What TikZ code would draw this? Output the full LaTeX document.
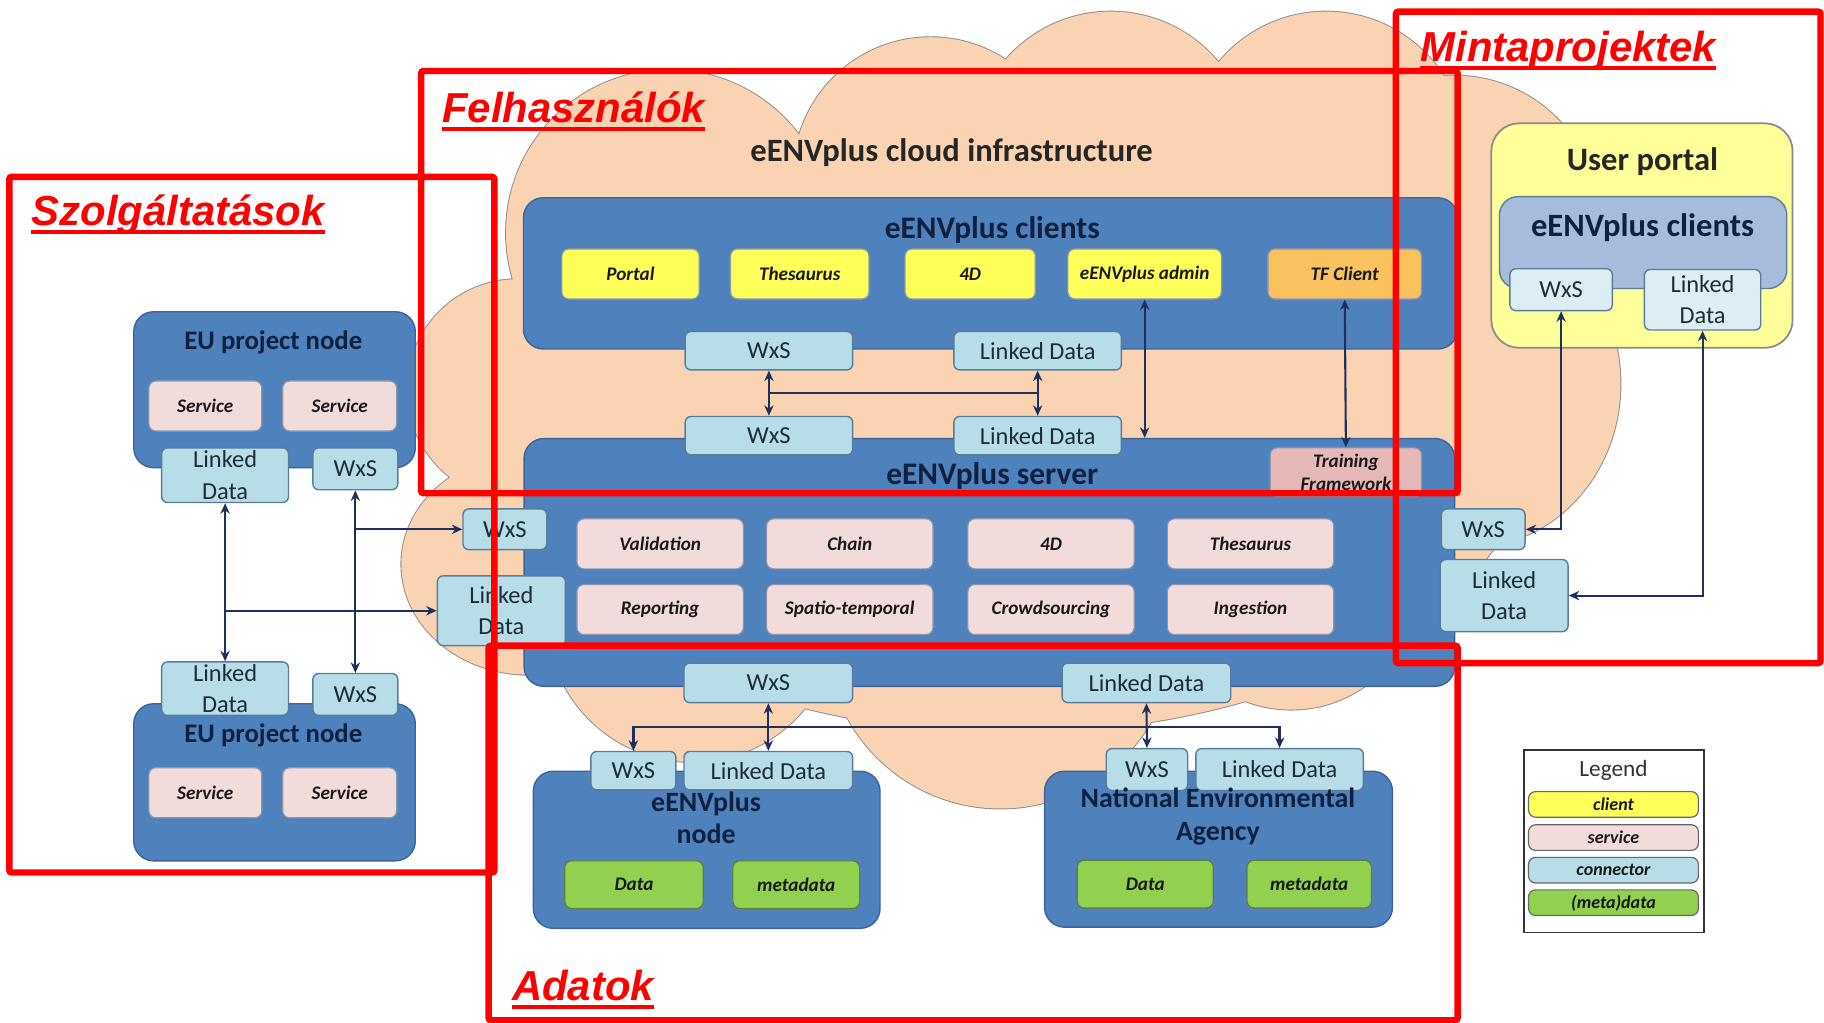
\documentclass[tikz,border=0pt]{standalone}
\usepackage{fontspec}
\setmainfont{Carlito}
\newfontfamily\redfont{Liberation Sans}
\usetikzlibrary{arrows.meta,calc}

\definecolor{cloudpeach}{HTML}{FAD3B3}
\definecolor{cloudedge}{HTML}{8A8A8A}
\definecolor{boxblue}{HTML}{4F81BD}
\definecolor{boxedge}{HTML}{3C6596}
\definecolor{connfill}{HTML}{B7DDE8}
\definecolor{connedge}{HTML}{5B7C99}
\definecolor{conntext}{HTML}{1E2B3A}
\definecolor{servfill}{HTML}{F2DCDB}
\definecolor{servedge}{HTML}{8C97AE}
\definecolor{clientfill}{HTML}{FFFF5A}
\definecolor{tffill}{HTML}{FAC25E}
\definecolor{trainfill}{HTML}{E6B9B8}
\definecolor{datafill}{HTML}{92D050}
\definecolor{dataedge}{HTML}{5E7F3A}
\definecolor{portalfill}{HTML}{FFFF99}
\definecolor{innerclients}{HTML}{A7BCDC}
\definecolor{portalconn}{HTML}{DCEEF4}
\definecolor{titletext}{HTML}{10203F}
\definecolor{arrowcol}{HTML}{1F2F5E}
\definecolor{framered}{HTML}{FF0000}

%Outline of the cloud, built from overlapping lobes
\newcommand{\cloudpath}{(870,370) ellipse [x radius=450, y radius=260]
  (575,200) circle [radius=140] (800,150) circle [radius=118]
  (955,130) circle [radius=120] (1140,130) circle [radius=120]
  (1250,190) circle [radius=125] (1265,330) ellipse [x radius=128, y radius=140]
  (445,335) circle [radius=95] (455,485) ellipse [x radius=110, y radius=95]
  (595,530) circle [radius=125] (860,545) circle [radius=150]
  (1110,500) circle [radius=110]}

\tikzset{wh/.style 2 args={minimum width=#1pt, minimum height=#2pt}}

\begin{document}
\begin{tikzpicture}[x=1pt, y=-1pt, every node/.style={inner sep=0pt}]
\tikzstyle{cloudline}=[draw=cloudedge, line width=1.6pt, fill=cloudpeach]
\tikzstyle{bluebox}=[draw=boxedge, fill=boxblue, line width=1.2pt, rounded corners=17pt]
\tikzstyle{conn}=[draw=connedge, fill=connfill, line width=1.2pt, rounded corners=5pt,
    text=conntext, align=center, font=\fontsize{21}{27}\selectfont]
\tikzstyle{serv}=[draw=servedge, fill=servfill, line width=1pt, rounded corners=6pt,
    text=black!90, align=center, font=\fontsize{16.5}{20}\selectfont\bfseries\itshape]
\tikzstyle{client}=[serv, fill=clientfill]
\tikzstyle{data}=[serv, fill=datafill, draw=dataedge]
\tikzstyle{legitem}=[serv, draw=black!60, font=\fontsize{15.5}{18}\selectfont\bfseries\itshape]
\tikzstyle{boxtitle}=[text=titletext, align=center, font=\fontsize{25}{28}\selectfont\bfseries]
\tikzstyle{arr}=[draw=arrowcol, line width=1.8pt, >={Stealth[length=9pt, width=8pt]}]
\tikzstyle{frame}=[draw=framered, line width=5.5pt, rounded corners=2pt]
\tikzstyle{framelabel}=[text=framered, anchor=base west, font=\fontsize{36}{40}\selectfont\redfont\bfseries\itshape]
\tikzstyle{underl}=[draw=framered, line width=3.5pt]

\useasboundingbox (0,0) rectangle (1568,879);
\fill[white] (0,0) rectangle (1568,879);

%cloud in the background
\draw[cloudline] \cloudpath;
\fill[cloudpeach] \cloudpath;
\node[font=\fontsize{28}{30}\selectfont\bfseries, text=black!85] (cloudtitle) at (818,131) {eENVplus cloud infrastructure};

%eENVplus clients
\node[bluebox, wh={803}{130}] (clientsbox) at (851.5,235) {};
\node[boxtitle, font=\fontsize{27}{30}\selectfont\bfseries] (clientstitle) at (853,198) {eENVplus clients};
\node[client, wh={118}{43}] (portal) at (542,235.5) {Portal};
\node[client, wh={119}{43}] (thesclient) at (687.5,235.5) {Thesaurus};
\node[client, wh={112}{43}] (fourdclient) at (834,235.5) {4D};
\node[client, wh={132}{43}] (admin) at (984,235.5) {eENVplus admin};
\node[client, fill=tffill, wh={132}{43}] (tfclient) at (1156,235.5) {TF Client};

%eENVplus server
\node[bluebox, wh={800}{213}] (serverbox) at (850.5,483.5) {};
\node[boxtitle, font=\fontsize{27}{30}\selectfont\bfseries] (servertitle) at (853,409) {eENVplus server};
\node[serv, fill=trainfill, wh={130}{42}] (training) at (1157,406) {Training\\Framework};
\node[serv, wh={143}{43}] (validation) at (567.5,467.5) {Validation};
\node[serv, wh={143}{43}] (chain) at (730.5,467.5) {Chain};
\node[serv, wh={143}{43}] (fourdserv) at (903.5,467.5) {4D};
\node[serv, wh={143}{43}] (thesserv) at (1075,467.5) {Thesaurus};
\node[serv, wh={143}{43}] (reporting) at (567.5,524) {Reporting};
\node[serv, wh={143}{43}] (spatio) at (730.5,524) {Spatio-temporal};
\node[serv, wh={143}{43}] (crowd) at (903.5,524) {Crowdsourcing};
\node[serv, wh={143}{43}] (ingestion) at (1075,524) {Ingestion};

%connectors of clients and server
\node[conn, wh={144}{33}] (cwxs) at (661,301.5) {WxS};
\node[conn, wh={144}{33}] (cld) at (892,301.5) {Linked Data};
\node[conn, wh={144}{33}] (swxs) at (661,374.5) {WxS};
\node[conn, wh={144}{33}] (sld) at (892,374.5) {Linked Data};
\node[conn, wh={72}{35}] (lwxs) at (434,455) {WxS};
\node[conn, wh={110}{60}] (lld) at (431,525) {Linked\\Data};
\node[conn, wh={72}{35}] (rwxs) at (1275,455) {WxS};
\node[conn, wh={110}{62}] (rld) at (1293,512) {Linked\\Data};
\node[conn, wh={145}{34}] (bwxs) at (660.5,587) {WxS};
\node[conn, wh={145}{34}] (bld) at (985.5,587) {Linked Data};

%eENVplus node
\node[bluebox, wh={298}{135}] (enode) at (607.5,730.5) {};
\node[conn, wh={73}{33}] (nwxs) at (544.5,662.5) {WxS};
\node[conn, wh={145}{33}] (nld) at (660.5,662.5) {Linked Data};
\node[boxtitle, font=\fontsize{24}{28}\selectfont\bfseries] (enodetitle) at (607,703) {eENVplus\\node};
\node[data, wh={119}{41}] (edata) at (545,760.5) {Data};
\node[data, wh={109}{41}] (emeta) at (684.5,760.5) {metadata};

%National Environmental Agency
\node[bluebox, wh={299}{134}] (nea) at (1047.5,730) {};
\node[conn, wh={70}{36}] (neawxs) at (986,661.5) {WxS};
\node[conn, wh={144}{36}] (neald) at (1100,661.5) {Linked Data};
\node[boxtitle, font=\fontsize{24}{28}\selectfont\bfseries] (neatitle) at (1047,702) {National Environmental\\Agency};
\node[data, wh={117}{41}] (neadata) at (984.5,760) {Data};
\node[data, wh={107}{41}] (neameta) at (1125.5,760) {metadata};

%EU project nodes
\node[bluebox, wh={242}{134}] (euone) at (236,335) {};
\node[boxtitle, font=\fontsize{23}{28}\selectfont\bfseries] (euonetitle) at (235,294) {EU project node};
\node[serv, wh={97}{43}] (euoneserva) at (176.5,349) {Service};
\node[serv, wh={98}{43}] (euoneservb) at (292,349) {Service};
\node[conn, wh={109}{47}] (euoneld) at (193.5,408.5) {Linked\\Data};
\node[conn, wh={73}{36}] (euonewxs) at (305.5,403) {WxS};

\node[bluebox, wh={242}{135}] (eutwo) at (236,672.5) {};
\node[conn, wh={109}{46}] (eutwold) at (193.5,592) {Linked\\Data};
\node[conn, wh={73}{36}] (eutwowxs) at (305.5,597) {WxS};
\node[boxtitle, font=\fontsize{23}{28}\selectfont\bfseries] (eutwotitle) at (235,632) {EU project node};
\node[serv, wh={97}{43}] (eutwoserva) at (176.5,681.5) {Service};
\node[serv, wh={98}{43}] (eutwoservb) at (292,681.5) {Service};

%User portal
\node[draw=cloudedge, fill=portalfill, line width=1.5pt, rounded corners=24pt, wh={259}{193}] (userportal) at (1411.5,202.5) {};
\node[font=\fontsize{28}{30}\selectfont\bfseries, text=black!85] (portaltitle) at (1412,139) {User portal};
\node[draw=connedge, fill=innerclients, line width=1.2pt, rounded corners=16pt, wh={247}{79}] (portalclients) at (1412.5,208.5) {};
\node[boxtitle, font=\fontsize{28}{30}\selectfont\bfseries] (portalclientstitle) at (1412,196) {eENVplus clients};
\node[conn, fill=portalconn, wh={88}{36}] (pwxs) at (1342,249) {WxS};
\node[conn, fill=portalconn, wh={100}{52}] (pld) at (1463.6,257.7) {Linked\\Data};

%Legend
\node[draw=black!80, fill=white, line width=1.5pt, wh={155}{157}] (legendbox) at (1387.5,723) {};
\node[font=\fontsize{20}{24}\selectfont, text=black!80] (legendtitle) at (1387,662) {Legend};
\node[legitem, fill=clientfill, wh={146}{22}] (legclient) at (1387,691.5) {client};
\node[legitem, wh={146}{22}] (legserv) at (1387,720) {service};
\node[legitem, fill=connfill, wh={146}{22}] (legconn) at (1387,748) {connector};
\node[legitem, fill=datafill, wh={146}{22}] (legdata) at (1387,776) {(meta)data};

%arrows between the boxes
\draw[arr, <->] (cwxs.south) -- (swxs.north);
\draw[arr, <->] (cld.south) -- (sld.north);
\coordinate (clink) at ($(cwxs.south)!0.5!(swxs.north)$);
\coordinate (slink) at ($(cld.south)!0.5!(sld.north)$);
\draw[arr, line width=2.2pt] (clink) -- (slink);
\draw[arr, <->] (admin.south) -- (admin.south |- serverbox.north);
\draw[arr, <->] (tfclient.south) -- (training.north);
\draw[arr, <->] (bwxs.south) -- (nld.north);
\draw[arr, <->] (bld.south) -- (neawxs.north);
\coordinate (bus) at ($(bwxs.south)!0.5!(nld.north)$);
\draw[arr, line width=2.2pt, <->] (nwxs.north) |- (bus) -| (neald.north);
\draw[arr, <->] (euoneld.south) -- (eutwold.north);
\draw[arr, <->] (euonewxs.south) -- (eutwowxs.north);
\draw[arr, ->] (lwxs.west -| euonewxs.south) -- (lwxs.west);
\draw[arr, ->] (lld.west -| euoneld.south) -- (lld.west);
\draw[arr, <->] (pwxs.south) |- (rwxs.east);
\draw[arr, <->] (pld.south) |- (rld.east);

%red frames and their labels
\draw[frame] (8,152) rectangle (425,750);
\draw[frame] (362,61) rectangle (1253,424);
\draw[frame] (1200,10) rectangle (1565,570);
\draw[frame] (420,555) rectangle (1253,877);
\node[framelabel] (szolglbl) at (27,194) {Szolgáltatások};
\node[framelabel] (felhlbl) at (380,105) {Felhasználók};
\node[framelabel] (mintalbl) at (1221,53) {Mintaprojektek};
\node[framelabel] (adatlbl) at (440,860) {Adatok\ };
\foreach \lbl in {szolglbl, felhlbl, mintalbl, adatlbl}
    \draw[underl] ([yshift=-5.5pt]\lbl.base west) -- ([yshift=-5.5pt]\lbl.base east);
\end{tikzpicture}
\end{document}
